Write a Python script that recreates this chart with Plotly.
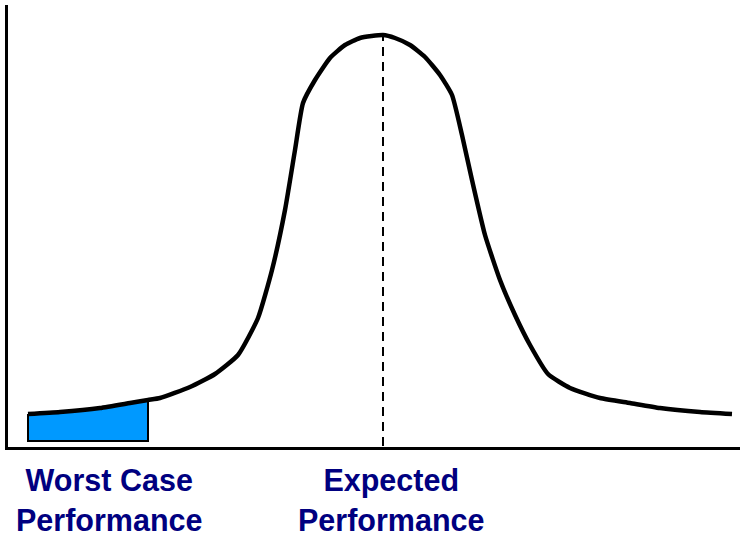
import plotly.graph_objects as go

# Performance (x) and frequency (y) values
perf = [28, 60, 100, 130, 148, 160, 190, 215, 238, 258, 272, 285, 295, 303, 315, 330, 345, 360,
        383, 395, 410, 425, 440, 452, 462, 472, 485, 500, 515, 530, 548, 570, 600, 630, 660, 700, 732]
freq = [32, 34, 38, 43, 46, 48, 59, 72, 91, 128, 176, 236, 296, 343, 366, 388, 401, 408,
        411, 408, 401, 389, 371, 351, 311, 266, 211, 166, 131, 101, 72, 58, 48, 43, 38, 34, 32]

worst_lo, worst_hi = 28, 148
fill_floor = 5
expected_perf = 383
labels = ["Worst Case<br>Performance", "Expected<br>Performance"]
label_x = [109, 391]

# worst-case area under curve
wx = [p for p in perf if worst_lo <= p <= worst_hi]
wy = [f for p, f in zip(perf, freq) if worst_lo <= p <= worst_hi]
area_x = wx + [worst_hi, worst_lo, worst_lo]
area_y = wy + [fill_floor, fill_floor, wy[0]]

fig = go.Figure()
fig.add_trace(go.Scatter(x=area_x, y=area_y, mode="lines", fill="toself",
                         fillcolor="#0099FF", line=dict(color="black", width=2),
                         hoverinfo="skip"))
fig.add_trace(go.Scatter(x=[expected_perf, expected_perf], y=[0, max(freq)], mode="lines",
                         line=dict(color="black", width=2, dash="9px,6px"), hoverinfo="skip"))
fig.add_trace(go.Scatter(x=perf, y=freq, mode="lines",
                         line=dict(color="black", width=4.5, shape="spline", smoothing=0.5),
                         hoverinfo="skip"))

for t, x in zip(labels, label_x):
    fig.add_annotation(x=x, y=-0.121, xref="x", yref="paper", text="<b>" + t + "</b>", showarrow=False,
                       font=dict(family="Liberation Sans, Arial", size=30.5, color="#000080"),
                       yanchor="middle", xanchor="center")

fig.update_layout(
    width=740, height=533, showlegend=False,
    margin=dict(l=8, r=0, t=5, b=86),
    plot_bgcolor="white", paper_bgcolor="white",
    xaxis=dict(range=[8, 740], showgrid=False, zeroline=False, showticklabels=False,
               ticks="", showline=True, linecolor="black", linewidth=3, fixedrange=True),
    yaxis=dict(range=[-1, 441], showgrid=False, zeroline=False, showticklabels=False,
               ticks="", showline=True, linecolor="black", linewidth=3, fixedrange=True),
)
fig.write_html("out.html", config={"displayModeBar": False},
               post_script="document.body.style.margin='0';")
